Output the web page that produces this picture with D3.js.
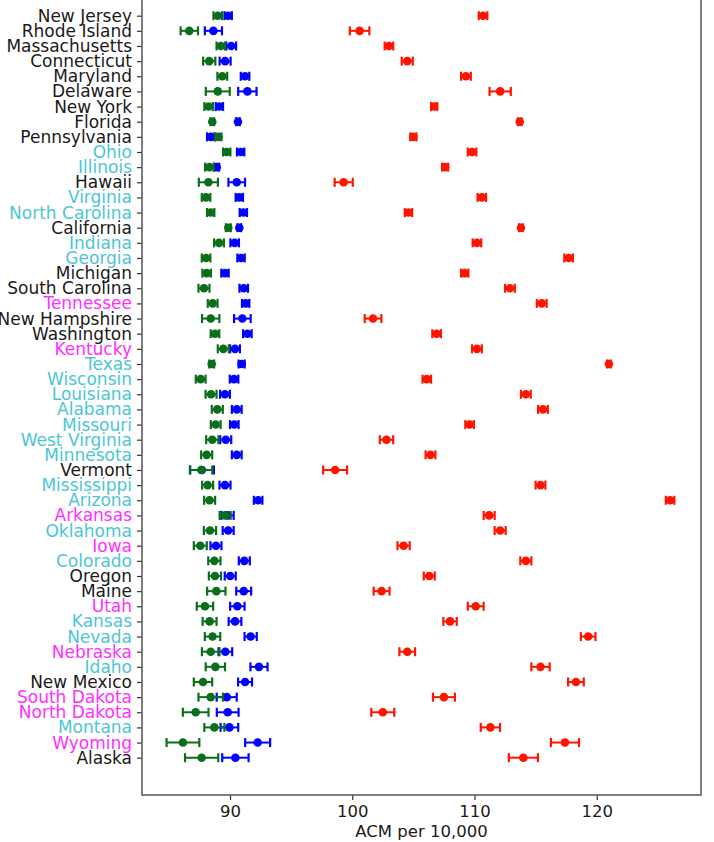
<!DOCTYPE html>
<html>
<head>
<meta charset="utf-8">
<script src="https://cdn.jsdelivr.net/npm/d3@7"></script>
<style>
    body { margin: 0; background: #fff; }
    text { font-family: "DejaVu Sans", sans-serif; }
</style>
</head>
<body>
<div id="chart-area"></div>
<script>
// states, top to bottom as drawn
const states = ["New Jersey", "Rhode Island", "Massachusetts", "Connecticut", "Maryland", "Delaware", "New York", "Florida", "Pennsylvania", "Ohio",
    "Illinois", "Hawaii", "Virginia", "North Carolina", "California", "Indiana", "Georgia", "Michigan", "South Carolina", "Tennessee",
    "New Hampshire", "Washington", "Kentucky", "Texas", "Wisconsin", "Louisiana", "Alabama", "Missouri", "West Virginia", "Minnesota",
    "Vermont", "Mississippi", "Arizona", "Arkansas", "Oklahoma", "Iowa", "Colorado", "Oregon", "Maine", "Utah",
    "Kansas", "Nevada", "Nebraska", "Idaho", "New Mexico", "South Dakota", "North Dakota", "Montana", "Wyoming", "Alaska"];

// label group per state: k = black, c = cyan, m = magenta
const groups = ["k", "k", "k", "k", "k", "k", "k", "k", "k", "c",
    "c", "k", "c", "c", "k", "c", "c", "k", "k", "m",
    "k", "k", "m", "c", "c", "c", "c", "c", "c", "c",
    "k", "c", "c", "m", "c", "m", "c", "k", "k", "m",
    "c", "c", "m", "c", "k", "m", "m", "c", "m", "k"];

// green series
const greenVals = [89.0, 86.67, 89.25, 88.3, 89.37, 89.0, 88.25, 88.55, 89.05, 89.73,
    88.31, 88.23, 88.04, 88.42, 89.86, 89.1, 88.04, 88.09, 87.87, 88.58,
    88.42, 88.77, 89.45, 88.5, 87.6, 88.45, 88.96, 88.83, 88.55, 88.09,
    87.65, 88.17, 88.33, 89.6, 88.36, 87.57, 88.72, 88.77, 88.88, 87.95,
    88.33, 88.57, 88.42, 88.8, 87.79, 88.42, 87.19, 88.72, 86.15, 87.68];
const greenErr = [0.35, 0.71, 0.35, 0.5, 0.4, 0.98, 0.35, 0.15, 0.25, 0.3,
    0.35, 0.78, 0.35, 0.3, 0.2, 0.4, 0.35, 0.35, 0.45, 0.4,
    0.71, 0.35, 0.45, 0.2, 0.4, 0.45, 0.45, 0.4, 0.5, 0.45,
    0.9, 0.45, 0.45, 0.45, 0.5, 0.53, 0.5, 0.5, 0.75, 0.67,
    0.57, 0.63, 0.72, 0.79, 0.75, 1.0, 1.05, 0.82, 1.34, 1.36];

// blue series
const blueVals = [89.85, 88.64, 90.1, 89.6, 91.23, 91.42, 89.13, 90.65, 88.42, 90.87,
    88.91, 90.55, 90.76, 91.09, 90.76, 90.38, 90.9, 89.59, 91.12, 91.28,
    91.01, 91.42, 90.41, 90.95, 90.33, 89.59, 90.55, 90.35, 89.65, 90.55,
    87.7, 89.59, 92.3, 89.8, 89.85, 88.85, 91.17, 90.02, 91.12, 90.6,
    90.41, 91.69, 89.62, 92.37, 91.23, 89.73, 89.81, 89.95, 92.26, 90.44];
const blueErr = [0.3, 0.7, 0.4, 0.45, 0.35, 0.75, 0.3, 0.15, 0.3, 0.3,
    0.2, 0.68, 0.3, 0.3, 0.15, 0.35, 0.3, 0.3, 0.35, 0.3,
    0.68, 0.35, 0.4, 0.25, 0.35, 0.4, 0.4, 0.35, 0.45, 0.4,
    0.98, 0.45, 0.35, 0.5, 0.45, 0.45, 0.45, 0.45, 0.61, 0.59,
    0.52, 0.5, 0.56, 0.7, 0.57, 0.82, 0.89, 0.72, 1.02, 1.08];

// red series
const redVals = [110.7, 100.6, 103.0, 104.5, 109.3, 112.1, 106.7, 113.7, 105.0, 109.8,
    107.6, 99.3, 110.6, 104.6, 113.8, 110.2, 117.7, 109.2, 112.9, 115.5,
    101.7, 106.9, 110.2, 121.0, 106.1, 114.2, 115.6, 109.6, 102.8, 106.4,
    98.6, 115.4, 126.0, 111.2, 112.1, 104.2, 114.2, 106.3, 102.4, 110.1,
    108.0, 119.3, 104.5, 115.4, 118.3, 107.5, 102.5, 111.3, 117.4, 114.0];
const redErr = [0.35, 0.8, 0.35, 0.45, 0.4, 0.87, 0.25, 0.15, 0.25, 0.35,
    0.25, 0.74, 0.35, 0.3, 0.15, 0.35, 0.35, 0.3, 0.4, 0.4,
    0.68, 0.35, 0.4, 0.15, 0.35, 0.4, 0.4, 0.35, 0.55, 0.4,
    0.98, 0.4, 0.35, 0.45, 0.45, 0.5, 0.45, 0.45, 0.65, 0.65,
    0.55, 0.6, 0.64, 0.75, 0.64, 0.9, 0.94, 0.79, 1.15, 1.19];

const xTicks = [90, 100, 110, 120];
const xLabel = "ACM per 10,000";

/****************************************************************************** */
const width = 714;
const height = 842;
const left = 142, right = 701, bottom = 795;

const labelColor = { k: "#1a1a1a", c: "#4cc6d6", m: "#ff30ff" };

const svg = d3.select("#chart-area").append("svg")
    .attr("width", width)
    .attr("height", height);

svg.append("rect")
    .attr("width", width)
    .attr("height", height)
    .attr("fill", "#fff");

const x = d3.scaleLinear()
    .domain([82.8, 128.53])
    .range([left, right]);

const y = d3.scalePoint()
    .domain(states)
    .range([15.7, 757.7]);

/********************** series (blue under green, red apart) ****************/
const series = [
    { name: "blue", color: "#0000ff", vals: blueVals, err: blueErr },
    { name: "green", color: "#0a6e1a", vals: greenVals, err: greenErr },
    { name: "red", color: "#ff1400", vals: redVals, err: redErr }
];

const cap = 4.5;

series.forEach(s => {
    const pts = states.map((st, i) => ({ st: st, v: s.vals[i], e: s.err[i] }));
    const g = svg.append("g").attr("class", "series-" + s.name);

    g.selectAll(".ebar")
        .data(pts)
        .join("line")
        .attr("class", "ebar")
        .attr("x1", d => x(d.v - d.e))
        .attr("x2", d => x(d.v + d.e))
        .attr("y1", d => y(d.st))
        .attr("y2", d => y(d.st))
        .attr("stroke", s.color)
        .attr("stroke-width", 2);

    // caps on both ends
    g.selectAll(".capl")
        .data(pts)
        .join("line")
        .attr("class", "capl")
        .attr("x1", d => x(d.v - d.e))
        .attr("x2", d => x(d.v - d.e))
        .attr("y1", d => y(d.st) - cap)
        .attr("y2", d => y(d.st) + cap)
        .attr("stroke", s.color)
        .attr("stroke-width", 2.2);

    g.selectAll(".capr")
        .data(pts)
        .join("line")
        .attr("class", "capr")
        .attr("x1", d => x(d.v + d.e))
        .attr("x2", d => x(d.v + d.e))
        .attr("y1", d => y(d.st) - cap)
        .attr("y2", d => y(d.st) + cap)
        .attr("stroke", s.color)
        .attr("stroke-width", 2.2);

    g.selectAll(".dot")
        .data(pts)
        .join("circle")
        .attr("class", "dot")
        .attr("cx", d => x(d.v))
        .attr("cy", d => y(d.st))
        .attr("r", 4.3)
        .attr("fill", s.color);
});

/********************** axes ************************************************/
const xAxis = svg.append("g")
    .attr("transform", `translate(0,${bottom})`)
    .call(d3.axisBottom(x).tickValues(xTicks).tickSize(5).tickPadding(5));

const yAxis = svg.append("g")
    .attr("transform", `translate(${left},0)`)
    .call(d3.axisLeft(y).tickSize(5).tickPadding(5));

[xAxis, yAxis].forEach(a => {
    a.select(".domain").remove();
    a.selectAll(".tick line").attr("stroke", "#333").attr("stroke-width", 1.2);
    a.selectAll(".tick text").attr("font-family", "DejaVu Sans").attr("fill", "#1a1a1a");
});

xAxis.selectAll(".tick text").attr("font-size", 16.5);

yAxis.selectAll(".tick text")
    .attr("font-size", 17)
    .attr("fill", d => labelColor[groups[states.indexOf(d)]]);

// spines (top one sits above the picture)
svg.append("path")
    .attr("d", `M${left},0V${bottom}H${right}V0`)
    .attr("fill", "none")
    .attr("stroke", "#555")
    .attr("stroke-width", 1.5);

svg.append("text")
    .attr("x", (left + right) / 2)
    .attr("y", 837)
    .attr("text-anchor", "middle")
    .attr("font-size", 16.5)
    .attr("fill", "#1a1a1a")
    .text(xLabel);
</script>
</body>
</html>
